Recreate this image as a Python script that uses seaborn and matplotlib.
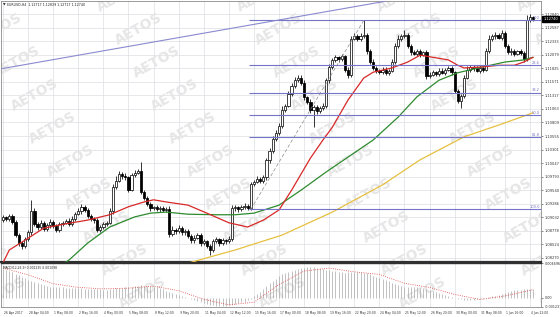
import numpy as np
import matplotlib
matplotlib.use("Agg")
import matplotlib.pyplot as plt
import matplotlib.transforms as mtransforms
import seaborn as sns

# ---------------- data (EURUSD H4) ----------------
first_open = 1.0898
close = [
    1.0903, 1.0900, 1.0905, 1.0895, 1.0870, 1.0855, 1.0850, 1.0862, 1.0875, 1.0915,
    1.0890, 1.0885, 1.0893, 1.0882, 1.0888, 1.0895, 1.0886, 1.0880, 1.0890, 1.0893,
    1.0896, 1.0890, 1.0900, 1.0910, 1.0915, 1.0922, 1.0917, 1.0905, 1.0900, 1.0898,
    1.0880, 1.0885, 1.0890, 1.0893, 1.0915, 1.0960, 1.0972, 1.0985, 1.0980, 1.0978,
    1.0955, 1.0982, 1.0987, 1.0990, 1.0950, 1.0940, 1.0928, 1.0920, 1.0922, 1.0918,
    1.0921, 1.0917, 1.0919, 1.0872, 1.0880, 1.0877, 1.0883, 1.0875, 1.0878, 1.0868,
    1.0860, 1.0865, 1.0870, 1.0855, 1.0858, 1.0850, 1.0842, 1.0858, 1.0862, 1.0855,
    1.0860, 1.0858, 1.0863, 1.0920, 1.0922, 1.0918, 1.0923, 1.0925, 1.0921, 1.0965,
    1.0970, 1.0975, 1.0972, 1.0978, 1.1010, 1.1028, 1.1050, 1.1062, 1.1075, 1.1105,
    1.1112, 1.1135, 1.1150, 1.1160, 1.1165, 1.1155, 1.1128, 1.1120, 1.1105, 1.1110,
    1.1102, 1.1108, 1.1112, 1.1160, 1.1185, 1.1198, 1.1203, 1.1200, 1.1205, 1.1180,
    1.1170, 1.1238, 1.1242, 1.1238, 1.1243, 1.1245, 1.1215, 1.1195, 1.1182, 1.1178,
    1.1175, 1.1180, 1.1174, 1.1178, 1.1195, 1.1225, 1.1238, 1.1242, 1.1245, 1.1225,
    1.1212, 1.1210, 1.1215, 1.1208, 1.1212, 1.1168, 1.1170, 1.1175, 1.1172, 1.1178,
    1.1174, 1.1180, 1.1182, 1.1175, 1.1140, 1.1122, 1.1130, 1.1165, 1.1180, 1.1185,
    1.1182, 1.1178, 1.1183, 1.1180, 1.1215, 1.1238, 1.1242, 1.1245, 1.1240, 1.1248,
    1.1225, 1.1212, 1.1215, 1.1210, 1.1214, 1.1211, 1.1200, 1.1272, 1.1278, 1.1274,
]
up_wick_pips = [
    4, 3, 5, 4, 3, 3, 4, 5, 4, 21, 5, 4, 6, 3, 4, 5, 3, 4, 5, 4,
    4, 5, 6, 4, 5, 6, 4, 3, 4, 3, 3, 4, 5, 4, 6, 5, 8, 5, 4, 6,
    3, 5, 4, 4, 17, 5, 3, 4, 3, 4, 3, 4, 3, 5, 6, 4, 5, 4, 4, 3,
    4, 5, 4, 3, 4, 3, 4, 5, 4, 3, 4, 3, 5, 6, 4, 3, 4, 5, 3, 5,
    4, 6, 3, 4, 5, 5, 6, 4, 5, 6, 4, 5, 4, 6, 5, 4, 5, 3, 4, 4,
    3, 4, 5, 4, 6, 4, 5, 3, 4, 3, 4, 5, 6, 4, 5, 27, 4, 3, 4, 5,
    3, 4, 5, 3, 4, 5, 6, 5, 10, 4, 3, 5, 4, 4, 3, 4, 5, 4, 3, 5,
    4, 3, 5, 4, 3, 4, 5, 4, 6, 4, 3, 4, 5, 4, 5, 6, 4, 5, 4, 7,
    4, 3, 5, 4, 3, 4, 3, 11, 6, 3,
]
dn_wick_pips = [
    3, 4, 3, 5, 4, 5, 6, 4, 3, 4, 4, 5, 3, 4, 5, 4, 3, 5, 4, 3,
    3, 4, 3, 4, 3, 5, 4, 4, 3, 5, 5, 4, 3, 4, 3, 5, 4, 3, 5, 4,
    4, 3, 4, 3, 4, 5, 4, 5, 4, 3, 4, 3, 4, 6, 4, 5, 3, 4, 5, 4,
    5, 4, 3, 5, 4, 5, 9, 4, 3, 5, 3, 4, 3, 4, 5, 4, 3, 4, 5, 4,
    4, 3, 5, 4, 4, 5, 4, 3, 5, 4, 4, 3, 5, 4, 3, 4, 5, 4, 6, 33,
    5, 4, 3, 4, 5, 4, 3, 5, 4, 4, 5, 4, 3, 5, 4, 4, 5, 4, 3, 4,
    4, 3, 5, 4, 3, 4, 5, 4, 3, 5, 4, 3, 5, 4, 3, 5, 4, 3, 5, 4,
    3, 4, 3, 5, 4, 5, 14, 4, 3, 4, 4, 3, 5, 4, 3, 4, 5, 4, 3, 4,
    4, 3, 5, 4, 3, 4, 5, 4, 3, 4,
]

# moving averages (red fast, green medium, yellow slow)
red_bar = [0, 2, 8, 13, 20, 27, 34, 40, 45, 48, 52, 59, 65, 72, 78, 83, 88, 92, 98, 102,
           105, 110, 115, 118, 124, 129, 133, 137, 142, 145, 147, 153, 158, 163, 166, 169]
red_val = [1.0818, 1.0842, 1.0864, 1.0883, 1.0891, 1.0898, 1.0908, 1.0923, 1.0932, 1.0936,
           1.0932, 1.0926, 1.0911, 1.0893, 1.0885, 1.0898, 1.0917, 1.0954, 1.1014, 1.1048,
           1.1072, 1.1123, 1.1164, 1.1175, 1.1183, 1.1194, 1.1207, 1.1203, 1.1198, 1.1188,
           1.1183, 1.1185, 1.1188, 1.1188, 1.1194, 1.1203]
green_bar = [18, 21, 27, 34, 42, 47, 52, 59, 68, 74, 80, 88, 95, 103, 111, 118, 126, 132,
             139, 145, 153, 160, 166, 169]
green_val = [1.0812, 1.0823, 1.0855, 1.0885, 1.0904, 1.0911, 1.0913, 1.0909, 1.0908, 1.0908,
             1.0911, 1.0926, 1.0954, 1.0988, 1.1020, 1.1048, 1.1091, 1.1129, 1.1160, 1.1174,
             1.1185, 1.1194, 1.1198, 1.1203]
yellow_bar = [57, 66, 74, 89, 105, 121, 133, 147, 158, 169]
yellow_val = [1.0814, 1.0829, 1.0842, 1.0870, 1.0913, 1.0964, 1.1011, 1.1054, 1.1076, 1.1099]

# Fibonacci retracement
fib_levels = [0.0, 23.6, 38.2, 50.0, 61.8, 100.0]
fib_level_labels = ["0.0", "23.6", "38.2", "50.0", "61.8", "100.0"]
fib_high, fib_low = 1.1272, 1.0918
fib_low_bar, fib_high_bar = 79, 115
fib_start_bar = 78.5

# long trend line
trend_bar = [-1, 122]
trend_val = [1.1181, 1.1308]

# MACD(12,26,9), main values in 1e-5
macd_e5 = [
    386, 372, 357, 342, 325, 305, 285, 265, 243, 225,
    210, 195, 182, 168, 157, 152, 148, 144, 141, 139,
    138, 136, 134, 131, 129, 127, 125, 124, 122, 120,
    116, 112, 110, 110, 114, 122, 130, 135, 138, 140,
    143, 150, 158, 163, 166, 162, 158, 155, 152, 145,
    130, 115, 95, 75, 58, 45, 32, 20, 10, 0,
    -14, -28, -42, -56, -70, -83, -92, -100, -106, -110,
    -108, -105, -100, -95, -85, -75, -62, -50, -30, -10,
    20, 50, 80, 120, 160, 195, 230, 260, 290, 317,
    335, 350, 365, 378, 386, 395, 405, 410, 414, 412,
    405, 395, 386, 378, 370, 362, 355, 345, 343, 340,
    342, 345, 346, 345, 345, 340, 330, 317, 300, 285,
    270, 255, 240, 221, 205, 190, 175, 160, 152, 148,
    145, 141, 139, 138, 130, 118, 105, 92, 80, 69,
    52, 38, 25, 12, 0, -12, -22, -26, -28, -28,
    -25, -22, -18, -14, -5, 5, 18, 30, 41, 55,
    70, 84, 97, 104, 108, 110, 112, 118, 122, 124,
]
signal_bar = [0, 8, 16, 24, 32, 40, 48, 56, 64, 72, 80, 88, 96, 104, 112, 120, 128, 136,
              144, 152, 160, 169]
signal_e5 = [400, 310, 190, 140, 120, 130, 158, 95, -20, -95, -60, 180, 360, 400, 350, 315,
             195, 140, 45, -22, 25, 110]

price_ticks = [1.08270, 1.08524, 1.08778, 1.09032, 1.09286, 1.09540, 1.09793, 1.10047,
               1.10301, 1.10555, 1.10809, 1.11063, 1.11317, 1.11571, 1.11825, 1.12079,
               1.12333, 1.12587, 1.12840]
current_price = 1.12740
macd_tick_vals = [0.00465, 0.0, -0.00118]
macd_tick_labels = ["0.004696", "0.00", "-0.001237"]

time_labels = ["26 Apr 2017", "28 Apr 04:00", "1 May 08:00", "2 May 16:00", "4 May 00:00",
               "5 May 08:00", "8 May 12:00", "9 May 20:00", "11 May 04:00", "12 May 12:00",
               "15 May 16:00", "17 May 00:00", "18 May 08:00", "19 May 16:00", "22 May 20:00",
               "24 May 04:00", "25 May 12:00", "26 May 20:00", "30 May 00:00", "31 May 08:00",
               "1 Jun 16:00", "4 Jun 22:00"]
header_main = "EURUSD,H4  1.12717 1.12839 1.12717 1.12740"
header_macd = "MACD(12,26,9) 0.001235 0.001098"
watermark = "AETOS"

# ---------------- figure ----------------
sns.set_style("white")
plt.rcParams['font.family'] = ['DejaVu Sans']

W, H = 560, 317
fig = plt.figure(figsize=(W / 100, H / 100), dpi=100)
fig.patch.set_facecolor("white")


def rect(l, t, r, b):
    return [l / W, 1 - b / H, (r - l) / W, (b - t) / H]


ax = fig.add_axes(rect(1, 1, 541, 262))
axm = fig.add_axes(rect(1, 263, 541, 307))

XL = (-0.64, 171.52)
grid_c = "#dcdfe3"

c = np.array(close)
o = np.array([first_open] + close[:-1])
hi = np.maximum(o, c) + np.array(up_wick_pips) * 1e-4
lo = np.minimum(o, c) - np.array(dn_wick_pips) * 1e-4
x = np.arange(len(c))
label_bars = list(range(0, 8 * len(time_labels), 8))

for a in (ax, axm):
    a.set_xlim(*XL)
    a.set_facecolor("white")
    a.set_axisbelow(True)
    a.set_xticks(label_bars)
    a.grid(True, axis="x", color=grid_c, lw=0.5)
    for s in a.spines.values():
        s.set_color("#8a8a8a")
        s.set_linewidth(0.6)

# watermark, tiled over both panels (clipped at panel edges)
wm_c = "#e6e6e6"
for a in (ax, axm):
    for j in range(-5, 7):
        for i in range(-1, 5):
            cx = 53 + 140 * i + 18 * j
            cy = 128 + 33 * j
            a.text(cx / W, 1 - cy / H, watermark, transform=fig.transFigure, rotation=29,
                   fontsize=10, weight="bold", color=wm_c, ha="center", va="center",
                   zorder=1, clip_on=True)

# main panel
ax.set_ylim(1.08195, 1.13084)
ax.set_yticks(price_ticks)
ax.set_yticklabels([f"{v:.5f}" for v in price_ticks])
ax.yaxis.tick_right()
ax.grid(True, axis="y", color=grid_c, lw=0.5)
ax.tick_params(axis="y", labelsize=2.6, length=1.5, width=0.4, pad=1, colors="#333333")
ax.tick_params(axis="x", length=0, labelbottom=False)
ax.spines["bottom"].set_color("#303030")
ax.spines["bottom"].set_linewidth(1.6)

bull = c >= o
ax.vlines(x, lo, hi, color="black", lw=0.55, zorder=3)
ax.bar(x[bull], (c - o)[bull], bottom=o[bull], width=0.72, color="white",
       edgecolor="#111111", lw=0.55, zorder=4)
ax.bar(x[~bull], (o - c)[~bull], bottom=c[~bull], width=0.72, color="black",
       edgecolor="black", lw=0.55, zorder=4)

sns.lineplot(x=yellow_bar, y=yellow_val, ax=ax, color="#e6c040", lw=0.9, zorder=5)
sns.lineplot(x=green_bar, y=green_val, ax=ax, color="#2e8b2e", lw=0.9, zorder=5)
sns.lineplot(x=red_bar, y=red_val, ax=ax, color="#d82828", lw=0.9, zorder=5)

fib_c = "#7474c8"
rng = fib_high - fib_low
for lev, lab in zip(fib_levels, fib_level_labels):
    p = fib_high - lev / 100 * rng
    ax.hlines(p, fib_start_bar, XL[1], color=fib_c, lw=0.8, zorder=6)
    ax.text(XL[1] - 0.4, p + 0.00005, lab, ha="right", va="bottom", fontsize=2.6,
            color=fib_c, zorder=7)
ax.plot([fib_low_bar, fib_high_bar], [fib_low, fib_high], ls=(0, (5, 3)), color="#8c8c8c",
        lw=0.5, zorder=6)
ax.plot(trend_bar, trend_val, color="#8a8ad0", lw=0.8, zorder=6)

trans = mtransforms.blended_transform_factory(ax.transAxes, ax.transData)
ax.text(1.004, current_price, f"{current_price:.5f}", transform=trans, fontsize=2.6,
        color="white", va="center", ha="left", clip_on=False,
        bbox=dict(boxstyle="square,pad=0.25", fc="black", ec="black"))

fig.text(2.5 / W, 1 - 5 / H, "\u25BC", fontsize=2.5, va="center", ha="left")
fig.text(7 / W, 1 - 5 / H, header_main, fontsize=2.3, va="center", ha="left", color="#222222")

# MACD panel
axm.set_ylim(-0.00124, 0.00469)
axm.vlines(x, 0, np.array(macd_e5) * 1e-5, color="#a8a8a8", lw=0.5, zorder=3)
sns.lineplot(x=signal_bar, y=np.array(signal_e5) * 1e-5, ax=axm, color="#e04040", lw=0.6,
             linestyle=":", zorder=4)
axm.yaxis.tick_right()
axm.set_yticks(macd_tick_vals)
axm.set_yticklabels(macd_tick_labels)
axm.tick_params(axis="y", labelsize=2.4, length=1.5, width=0.4, pad=1, colors="#333333")
axm.set_xticklabels(time_labels)
axm.tick_params(axis="x", labelsize=2.2, length=2, width=0.4, pad=0.8, colors="#333333")
off = mtransforms.ScaledTranslation(1.0 / 100, 0, fig.dpi_scale_trans)
for t in axm.get_xticklabels():
    t.set_ha("left")
    t.set_transform(t.get_transform() + off)
axm.spines["top"].set_color("#303030")
axm.spines["top"].set_linewidth(1.0)
for a in (ax, axm):
    a.set_xlabel("")
    a.set_ylabel("")
fig.text(3 / W, 1 - 268 / H, header_macd, fontsize=2.2, va="center", ha="left", color="#222222")

fig.savefig("out.png", dpi=100, facecolor="white")
